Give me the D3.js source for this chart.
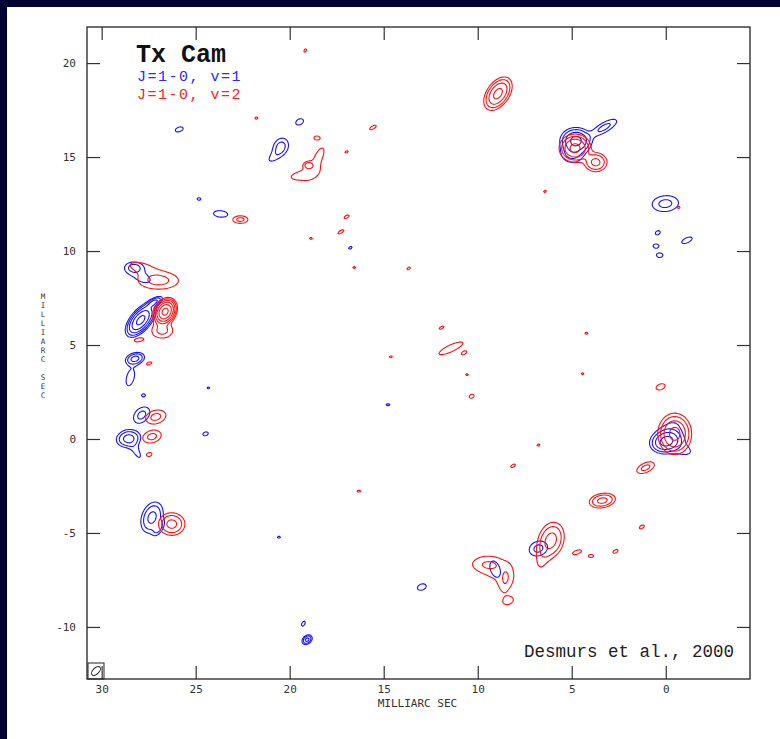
<!DOCTYPE html>
<html>
<head>
<meta charset="utf-8">
<script src="https://cdn.jsdelivr.net/npm/d3@7"></script>
<style>
  html, body { margin: 0; padding: 0; background: #000033; }
  svg { display: block; }
</style>
</head>
<body>
<svg id="chart" width="780" height="739"></svg>
<script>
// contour levels (relative units), each spot gets a peak that gives it n rings
const levels = [1, 2, 4, 8, 16, 32, 64];
const xTicks = [30, 25, 20, 15, 10, 5, 0];
const yTicks = [20, 15, 10, 5, 0, -5, -10];

// maser spots: [x mas, y mas, outer semi-axis a, b (mas), angle deg, rings]
const blueSpots = [
  [25.9, 16.5, 0.22, 0.12, 20, 1],
  [19.5, 16.9, 0.22, 0.15, 30, 1],
  [20.5, 15.6, 0.45, 0.36, 60, 2],
  [20.85, 15.05, 0.3, 0.14, 40, 1],
  [24.85, 12.8, 0.1, 0.07, 0, 1],
  [23.7, 12.0, 0.38, 0.17, -5, 1],
  [16.8, 10.2, 0.1, 0.06, 30, 1],
  [28.3, 9.15, 0.45, 0.28, 0, 2],
  [27.85, 8.6, 0.42, 0.22, -20, 1],
  [27.95, 6.35, 1.1, 0.55, 50, 5],
  [27.25, 7.3, 0.5, 0.2, 30, 3],
  [28.25, 4.3, 0.5, 0.3, 15, 3],
  [28.5, 3.3, 0.45, 0.2, 75, 1],
  [27.8, 2.35, 0.1, 0.08, 0, 1],
  [27.9, 1.3, 0.5, 0.35, 45, 2],
  [28.6, 0.05, 0.65, 0.45, 10, 3],
  [28.2, -0.6, 0.4, 0.14, -60, 1],
  [24.5, 0.3, 0.15, 0.1, 20, 1],
  [24.35, 2.75, 0.07, 0.05, 0, 1],
  [27.35, -4.15, 0.85, 0.55, 70, 3],
  [27.0, -4.7, 0.4, 0.2, 60, 2],
  [20.6, -5.2, 0.08, 0.05, 0, 1],
  [19.3, -9.8, 0.15, 0.08, 60, 1],
  [19.1, -10.65, 0.3, 0.22, 40, 3],
  [13.0, -7.85, 0.24, 0.16, 20, 1],
  [14.8, 1.85, 0.1, 0.05, 0, 1],
  [9.1, -6.9, 0.45, 0.25, -70, 1],
  [6.8, -5.8, 0.5, 0.38, 20, 2],
  [4.8, 15.9, 0.85, 0.7, 0, 4],
  [5.0, 15.2, 0.55, 0.45, 0, 2],
  [3.3, 16.6, 0.75, 0.25, 30, 2],
  [0.05, 12.55, 0.7, 0.42, 5, 2],
  [0.45, 11.0, 0.14, 0.1, 30, 1],
  [0.55, 10.3, 0.15, 0.1, 0, 1],
  [0.35, 9.8, 0.17, 0.12, 0, 1],
  [-1.1, 10.6, 0.3, 0.13, 25, 1],
  [0.0, -0.1, 0.85, 0.6, 15, 4],
  [-0.2, 0.5, 0.45, 0.3, 40, 1],
  [-0.8, -0.5, 0.5, 0.25, -20, 1]
];

const redSpots = [
  [19.2, 20.7, 0.1, 0.06, 60, 1],
  [21.8, 17.1, 0.08, 0.06, 0, 1],
  [15.6, 16.6, 0.2, 0.08, 30, 1],
  [8.95, 18.4, 1.0, 0.6, 55, 4],
  [4.85, 15.5, 0.85, 0.75, 0, 4],
  [3.75, 14.75, 0.6, 0.5, 0, 3],
  [6.45, 13.2, 0.08, 0.05, 30, 1],
  [19.4, 14.05, 0.55, 0.2, 10, 1],
  [18.5, 15.0, 0.55, 0.2, 65, 1],
  [19.05, 14.6, 0.22, 0.16, 0, 2],
  [18.6, 16.05, 0.12, 0.08, 0, 1],
  [17.0, 15.3, 0.1, 0.05, 30, 1],
  [22.65, 11.7, 0.4, 0.2, 0, 2],
  [17.0, 11.85, 0.15, 0.07, 30, 1],
  [17.3, 11.05, 0.18, 0.07, 30, 1],
  [18.9, 10.7, 0.08, 0.05, 0, 1],
  [16.6, 9.15, 0.07, 0.05, 0, 1],
  [13.7, 9.1, 0.1, 0.06, 30, 1],
  [27.0, 8.45, 1.05, 0.45, 0, 2],
  [28.0, 9.2, 0.5, 0.2, -10, 1],
  [26.65, 6.8, 0.8, 0.6, 60, 6],
  [26.8, 5.8, 0.55, 0.4, 0, 2],
  [28.05, 5.3, 0.25, 0.1, 10, 1],
  [27.5, 4.05, 0.15, 0.07, 20, 1],
  [27.15, 1.2, 0.55, 0.35, 15, 2],
  [27.35, 0.15, 0.5, 0.32, 15, 2],
  [27.5, -0.8, 0.15, 0.1, 20, 1],
  [26.3, -4.5, 0.7, 0.6, 0, 3],
  [16.35, -2.75, 0.1, 0.05, 0, 1],
  [14.65, 4.4, 0.08, 0.05, 0, 1],
  [11.95, 5.95, 0.14, 0.06, 30, 1],
  [11.45, 4.85, 0.7, 0.18, 25, 1],
  [10.75, 4.6, 0.12, 0.06, 30, 1],
  [10.6, 3.45, 0.07, 0.05, 0, 1],
  [10.35, 2.3, 0.14, 0.1, 30, 1],
  [4.25, 5.65, 0.08, 0.05, 0, 1],
  [4.45, 3.5, 0.07, 0.05, 0, 1],
  [8.15, -1.4, 0.14, 0.07, 30, 1],
  [6.8, -0.3, 0.08, 0.05, 30, 1],
  [3.4, -3.25, 0.7, 0.38, 10, 3],
  [1.3, -4.65, 0.15, 0.08, 30, 1],
  [2.7, -5.95, 0.15, 0.08, 30, 1],
  [4.0, -6.2, 0.14, 0.08, 0, 1],
  [4.75, -6.0, 0.25, 0.1, 20, 1],
  [6.1, -5.35, 0.95, 0.65, 75, 3],
  [6.6, -6.2, 0.5, 0.2, 80, 1],
  [9.0, -7.0, 0.65, 0.4, -30, 1],
  [9.55, -6.65, 0.4, 0.18, 0, 1],
  [8.55, -7.5, 0.35, 0.15, 80, 1],
  [8.4, -8.6, 0.22, 0.15, 20, 1],
  [-0.45, 0.3, 1.1, 0.9, 90, 4],
  [0.3, 2.8, 0.25, 0.15, 20, 1],
  [1.1, -1.5, 0.5, 0.25, 25, 2],
  [-0.65, 12.35, 0.08, 0.06, 0, 1]
];

const W = 780, H = 739;
const plotL = 87, plotR = 750, plotT = 27, plotB = 679;
const mono = '"Liberation Mono", "DejaVu Sans Mono", monospace';
const small = '"DejaVu Sans Mono", monospace';

const svg = d3.select('#chart');

// dark slide background with white panel
svg.append('rect').attr('width', W).attr('height', H).attr('fill', '#000033');
svg.append('rect').attr('x', 7).attr('y', 7).attr('width', W - 7).attr('height', H - 7).attr('fill', '#ffffff');

// RA runs right to left
const x = d3.scaleLinear().domain([30.78, -4.48]).range([plotL, plotR]);
const y = d3.scaleLinear().domain([-12.77, 21.92]).range([plotB, plotT]);

const gw = plotR - plotL, gh = plotB - plotT;
const pxPerMas = x(0) - x(1);

// sum of elliptical gaussians on a pixel grid
function field(spots) {
  const v = new Float64Array(gw * gh);
  for (const [sx, sy, a, b, ang, n] of spots) {
    const peak = 1.25 * Math.pow(2, n - 1);
    const k = Math.sqrt(2 * Math.log(peak));
    const sa = a * pxPerMas / k, sb = b * pxPerMas / k;
    const cx = x(sx) - plotL, cy = y(sy) - plotT;
    const t = ang * Math.PI / 180, c = Math.cos(t), s = Math.sin(t);
    const R = Math.ceil(4 * Math.max(sa, sb)) + 2;
    const j0 = Math.max(0, Math.floor(cy - R)), j1 = Math.min(gh, Math.ceil(cy + R));
    const i0 = Math.max(0, Math.floor(cx - R)), i1 = Math.min(gw, Math.ceil(cx + R));
    for (let j = j0; j < j1; j++) {
      for (let i = i0; i < i1; i++) {
        const dx = i - cx, dy = cy - j;
        const u = dx * c + dy * s, w = -dx * s + dy * c;
        v[j * gw + i] += peak * Math.exp(-0.5 * (u * u / (sa * sa) + w * w / (sb * sb)));
      }
    }
  }
  return v;
}

const contours = d3.contours().size([gw, gh]).thresholds(levels);

svg.append('clipPath').attr('id', 'clip')
  .append('rect').attr('x', plotL).attr('y', plotT).attr('width', gw).attr('height', gh);

const plot = svg.append('g').attr('clip-path', 'url(#clip)')
  .append('g').attr('transform', `translate(${plotL},${plotT})`);

plot.append('g').selectAll('path')
  .data(contours(field(blueSpots)))
  .join('path')
  .attr('d', d3.geoPath())
  .attr('fill', 'none')
  .attr('stroke', '#1414ff')
  .attr('stroke-width', 1.1);

plot.append('g').selectAll('path')
  .data(contours(field(redSpots)))
  .join('path')
  .attr('d', d3.geoPath())
  .attr('fill', 'none')
  .attr('stroke', '#ff1010')
  .attr('stroke-width', 1.1);

// axes, ticks point inward
function styleAxis(g) {
  g.select('.domain').remove();
  g.selectAll('.tick line').attr('stroke', '#333').attr('stroke-width', 1.2);
  g.selectAll('.tick text').attr('fill', '#333').style('font-family', small).style('font-size', '11px');
}

svg.append('g').attr('transform', `translate(0,${plotB})`)
  .call(d3.axisBottom(x).tickValues(xTicks).tickSize(-13).tickPadding(6).tickFormat(d => String(d)))
  .call(styleAxis);
svg.append('g').attr('transform', `translate(0,${plotT})`)
  .call(d3.axisTop(x).tickValues(xTicks).tickSize(-13).tickFormat(''))
  .call(styleAxis);
svg.append('g').attr('transform', `translate(${plotL},0)`)
  .call(d3.axisLeft(y).tickValues(yTicks).tickSize(-13).tickPadding(11).tickFormat(d => String(d)))
  .call(styleAxis);
svg.append('g').attr('transform', `translate(${plotR},0)`)
  .call(d3.axisRight(y).tickValues(yTicks).tickSize(-13).tickFormat(''))
  .call(styleAxis);

svg.append('rect')
  .attr('x', plotL).attr('y', plotT).attr('width', gw).attr('height', gh)
  .attr('fill', 'none').attr('stroke', '#222').attr('stroke-width', 1.3);

// axis titles
svg.append('text')
  .attr('x', (plotL + plotR) / 2 - 1).attr('y', 707)
  .attr('text-anchor', 'middle')
  .attr('fill', '#333')
  .style('font-family', small).style('font-size', '11px')
  .text('MILLIARC SEC');

// vertical title: upright letters stacked in one text element
svg.append('text')
  .attr('x', 43).attr('y', 299)
  .attr('text-anchor', 'middle')
  .attr('fill', '#333')
  .style('font-family', small).style('font-size', '7.6px')
  .selectAll('tspan')
  .data('MILLIARC SEC'.split(''))
  .join('tspan')
  .attr('x', 43)
  .attr('dy', (d, i) => i === 0 ? 0 : 9)
  .text(d => d === ' ' ? '\u00a0' : d);

// beam
svg.append('rect').attr('x', 88).attr('y', 663).attr('width', 16).attr('height', 16)
  .attr('fill', 'none').attr('stroke', '#222').attr('stroke-width', 1);
svg.append('ellipse').attr('cx', 96).attr('cy', 671).attr('rx', 5.5).attr('ry', 3)
  .attr('transform', 'rotate(-45 96 671)')
  .attr('fill', 'none').attr('stroke', '#222').attr('stroke-width', 1);

// title and legend
svg.append('text').attr('x', 136).attr('y', 62)
  .style('font-family', mono).style('font-size', '25px').style('font-weight', 'bold')
  .attr('fill', '#111').text('Tx Cam');
svg.append('text').attr('x', 137).attr('y', 81)
  .style('font-family', mono).style('font-size', '15px').style('letter-spacing', '1.5px')
  .attr('fill', '#2a2aff').text('J=1-0, v=1');
svg.append('text').attr('x', 137).attr('y', 99)
  .style('font-family', mono).style('font-size', '15px').style('letter-spacing', '1.5px')
  .attr('fill', '#ff2020').text('J=1-0, v=2');

svg.append('text').attr('x', 734).attr('y', 657)
  .attr('text-anchor', 'end')
  .style('font-family', mono).style('font-size', '17.5px')
  .attr('fill', '#222').text('Desmurs et al., 2000');
</script>
</body>
</html>
